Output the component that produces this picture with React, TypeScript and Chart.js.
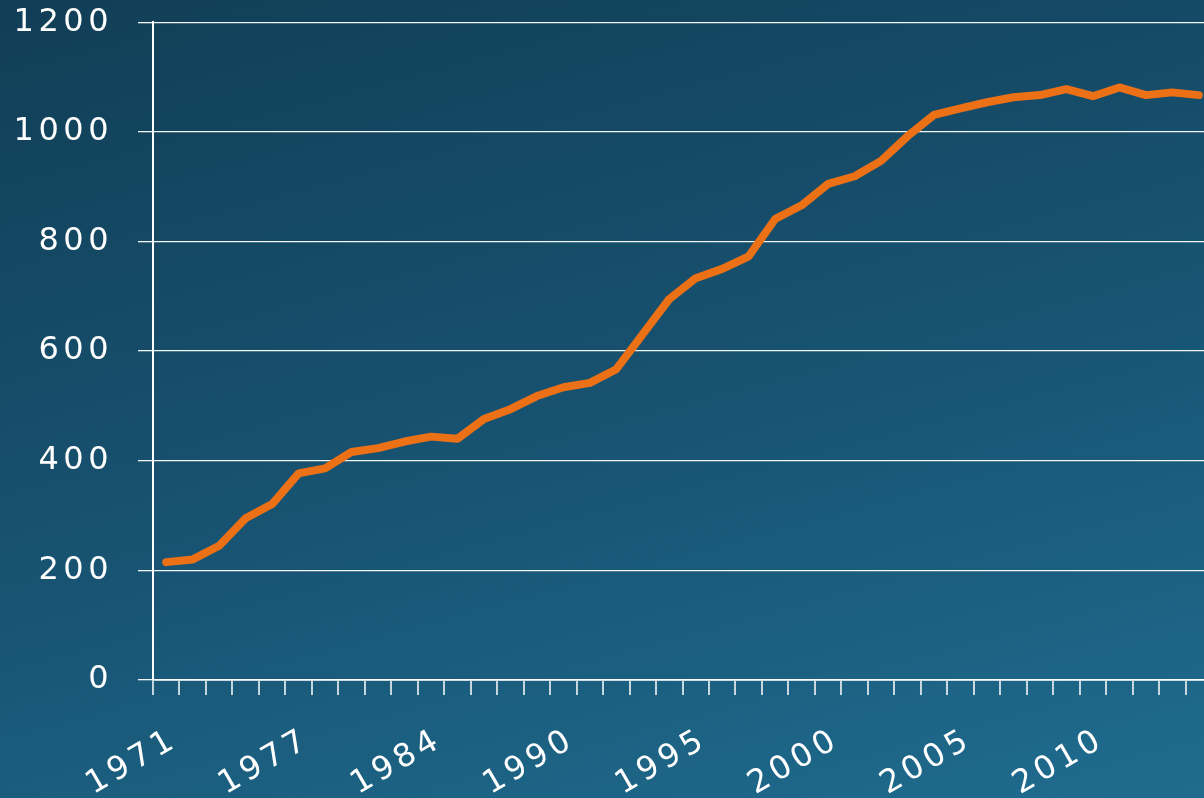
import React, { useEffect, useRef } from "react";
import { Chart, registerables } from "chart.js";

Chart.register(...registerables);

const years: string[] = [
  "1971", "1973", "1974", "1975", "1976",
  "1977", "1978", "1980", "1981", "1983",
  "1984", "1985", "1986", "1987", "1988",
  "1990", "1991", "1992", "1993", "1994",
  "1995", "1996", "1997", "1998", "1999",
  "2000", "2001", "2002", "2003", "2004",
  "2005", "2006", "2007", "2008", "2009",
  "2010", "2011", "2012", "2013", "2014",
];

const values: number[] = [
  215, 220, 245, 295, 321,
  377, 386, 416, 423, 435,
  444, 440, 476, 494, 518,
  534, 542, 567, 631, 695,
  733, 750, 773, 841, 866,
  905, 919, 947, 992, 1031,
  1043, 1054, 1063, 1067, 1078,
  1065, 1081, 1067, 1072, 1067,
];

const yTicks: number[] = [0, 200, 400, 600, 800, 1000, 1200];
const labelEvery = 5;

const FONT = "'DejaVu Sans', sans-serif";

export default function App() {
  const ref = useRef<HTMLCanvasElement | null>(null);

  useEffect(() => {
    if (!ref.current) return;
    const spacing = {
      id: "spacing",
      beforeDraw(chart: any) {
        (chart.ctx as any).letterSpacing = "4.5px";
      },
      beforeLayout(chart: any) {
        (chart.ctx as any).letterSpacing = "4.5px";
      },
    };
    const chart = new Chart(ref.current, {
      type: "line",
      data: {
        labels: years,
        datasets: [
          {
            data: values,
            borderColor: "#ec7016",
            borderWidth: 8,
            borderCapStyle: "round",
            borderJoinStyle: "round",
            pointRadius: 0,
            tension: 0,
            fill: false,
          },
        ],
      },
      options: {
        animation: false,
        responsive: true,
        maintainAspectRatio: false,
        layout: { padding: { top: 0, left: 0, right: 0, bottom: 0 } },
        plugins: { legend: { display: false }, tooltip: { enabled: false } },
        scales: {
          x: {
            type: "category",
            offset: true,
            grid: {
              display: true,
              offset: true,
              drawOnChartArea: false,
              drawTicks: true,
              tickLength: 15,
              color: "rgba(255,255,255,0.75)",
              lineWidth: 2,
            },
            border: { display: true, color: "rgba(255,255,255,0.7)", width: 2 },
            ticks: {
              autoSkip: false,
              maxRotation: 30,
              minRotation: 30,
              padding: 26,
              labelOffset: 9,
              color: "#ffffff",
              font: { family: FONT, size: 32 },
              callback: (_v: any, i: number) => (i % labelEvery === 0 ? years[i] : ""),
            },
            afterFit: (s: any) => {
              s.height = 118;
            },
          },
          y: {
            min: 0,
            max: 1200,
            afterBuildTicks: (s: any) => {
              s.ticks = yTicks.map((v) => ({ value: v }));
            },
            grid: {
              color: "rgba(255,255,255,0.95)",
              lineWidth: 1.3,
              tickLength: 15,
            },
            border: { display: true, color: "#ffffff", width: 2 },
            ticks: {
              padding: 25,
              color: "#ffffff",
              font: { family: FONT, size: 32 },
              callback: (v: any) => String(v),
            },
            afterFit: (s: any) => {
              s.width = 153;
            },
          },
        },
      },
      plugins: [spacing],
    });
    return () => chart.destroy();
  }, []);

  return (
    <div
      style={{
        position: "fixed",
        left: 0,
        top: 0,
        width: "100vw",
        height: "100vh",
        overflow: "hidden",
        background: "linear-gradient(165deg, #113e56 0%, #185473 55%, #1f6c8f 100%)",
      }}
    >
      <div style={{ position: "absolute", left: 0, top: -22, width: 1244, height: 820 }}>
        <canvas ref={ref} />
      </div>
    </div>
  );
}
